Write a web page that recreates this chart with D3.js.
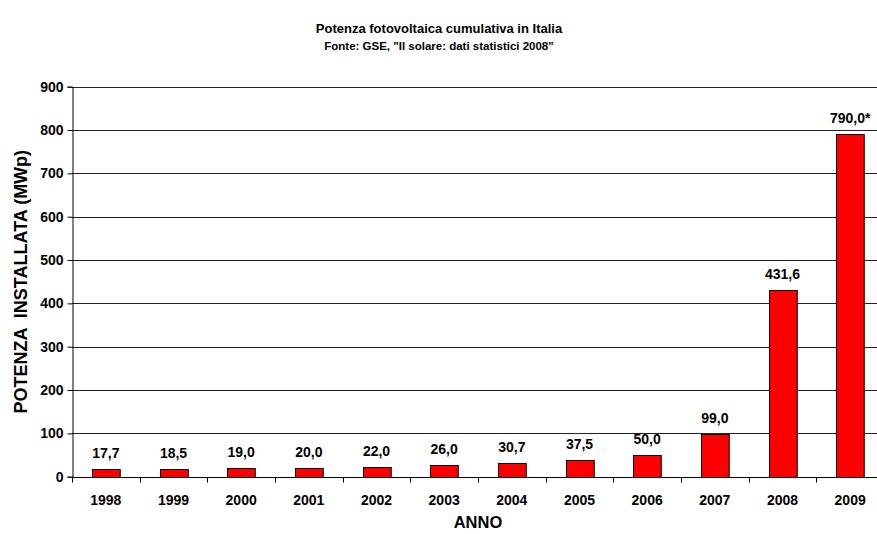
<!DOCTYPE html>
<html>
<head>
<meta charset="utf-8">
<script src="https://cdn.jsdelivr.net/npm/d3@7"></script>
<style>
  body { margin: 0; background: #fff; }
  svg { display: block; font-family: "Liberation Sans", Arial, sans-serif; font-weight: bold; }
</style>
</head>
<body>
<div id="chart"></div>
<script>
const years = ["1998","1999","2000","2001","2002","2003","2004","2005","2006","2007","2008","2009"];
const power = [17.7, 18.5, 19.0, 20.0, 22.0, 26.0, 30.7, 37.5, 50.0, 99.0, 431.6, 790.0];
const labels = ["17,7","18,5","19,0","20,0","22,0","26,0","30,7","37,5","50,0","99,0","431,6","790,0*"];
const yTicks = [0,100,200,300,400,500,600,700,800,900];

const width = 877, height = 534;
const mLeft = 72, mRight = 884, mTop = 86.7, mBottom = 476.7;

const svg = d3.select("#chart").append("svg")
  .attr("width", width).attr("height", height);

const x = d3.scaleBand().domain(years).range([mLeft, mRight]).paddingInner(0.59).paddingOuter(0.295);
const y = d3.scaleLinear().domain([0, 900]).range([mBottom, mTop]);

// grid
svg.append("g")
  .selectAll("line")
  .data(yTicks.slice(1))
  .join("line")
  .attr("x1", mLeft).attr("x2", width)
  .attr("y1", d => Math.round(y(d)) + 0.5).attr("y2", d => Math.round(y(d)) + 0.5)
  .attr("stroke", "#222").attr("stroke-width", 1);

// bars
svg.append("g")
  .selectAll("rect")
  .data(years)
  .join("rect")
  .attr("x", d => Math.round(x(d)) + 0.5)
  .attr("y", (d, i) => Math.round(y(power[i])) + 0.5)
  .attr("width", x.bandwidth())
  .attr("height", (d, i) => Math.round(y(0)) - Math.round(y(power[i])))
  .attr("fill", "#ff0000")
  .attr("stroke", "#000").attr("stroke-width", 1);

// value labels
svg.append("g")
  .selectAll("text")
  .data(years)
  .join("text")
  .attr("x", d => x(d) + x.bandwidth() / 2)
  .attr("y", (d, i) => y(power[i]) - 11)
  .attr("text-anchor", "middle")
  .attr("font-size", "14px")
  .text((d, i) => labels[i]);

// y axis
const yAxis = svg.append("g")
  .attr("transform", `translate(${mLeft + 0.5},0)`)
  .call(d3.axisLeft(y).tickValues(yTicks).tickSize(5).tickPadding(4).tickFormat(d3.format("d")));
yAxis.selectAll("text").attr("font-size", "14px").attr("font-weight", "bold").attr("fill", "#000")
  .attr("font-family", "Liberation Sans, Arial, sans-serif");
yAxis.selectAll("line").attr("stroke", "#000");
yAxis.select(".domain").attr("stroke", "#000");

// x axis
const xAxis = svg.append("g")
  .attr("transform", `translate(0,${Math.round(mBottom) + 0.5})`);
xAxis.append("line")
  .attr("x1", mLeft).attr("x2", width)
  .attr("stroke", "#000");
xAxis.selectAll("line.tk")
  .data(d3.range(years.length + 1))
  .join("line")
  .attr("class", "tk")
  .attr("x1", i => Math.round(mLeft + i * x.step()) + 0.5)
  .attr("x2", i => Math.round(mLeft + i * x.step()) + 0.5)
  .attr("y1", 0).attr("y2", 5)
  .attr("stroke", "#000");
xAxis.selectAll("text")
  .data(years)
  .join("text")
  .attr("x", d => x(d) + x.bandwidth() / 2)
  .attr("y", 27.5)
  .attr("text-anchor", "middle")
  .attr("font-size", "14px")
  .text(d => d);

// titles
svg.append("text")
  .attr("x", 439).attr("y", 33)
  .attr("text-anchor", "middle")
  .attr("font-size", "13px")
  .text("Potenza fotovoltaica cumulativa in Italia");
svg.append("text")
  .attr("x", 439).attr("y", 50)
  .attr("text-anchor", "middle")
  .attr("font-size", "11.5px")
  .text("Fonte: GSE, \"Il solare: dati statistici 2008\"");

svg.append("text")
  .attr("x", (mLeft + mRight) / 2).attr("y", 528)
  .attr("text-anchor", "middle")
  .attr("font-size", "16.5px")
  .text("ANNO");

svg.append("text")
  .attr("transform", `translate(27,${(mTop + mBottom) / 2}) rotate(-90)`)
  .attr("text-anchor", "middle")
  .attr("font-size", "18px")
  .attr("xml:space", "preserve")
  .style("white-space", "pre")
  .text("POTENZA  INSTALLATA (MWp)");
</script>
</body>
</html>
